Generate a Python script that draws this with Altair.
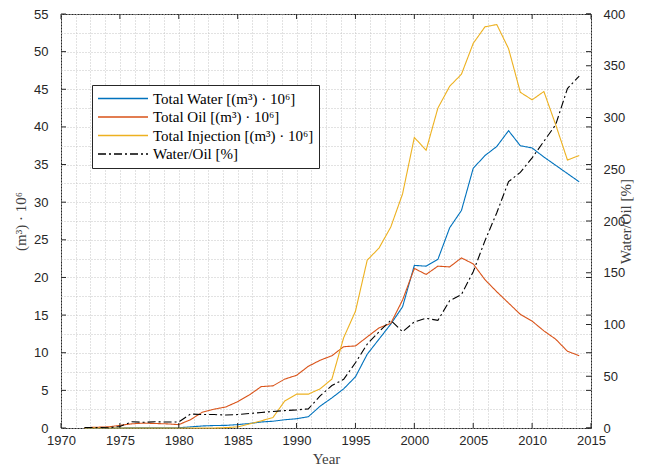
import altair as alt
import pandas as pd

# ---- data ----
years = list(range(1972, 2015))
water = [0, 0, 0, 0, 0.03, 0.04, 0.04, 0.03, 0.03, 0.15, 0.27, 0.33, 0.35, 0.45,
         0.6, 0.8, 0.9, 1.1, 1.23, 1.5, 2.9, 4.0, 5.2, 6.8, 9.8, 11.8, 13.8, 16.1,
         21.6, 21.5, 22.4, 26.6, 28.9, 34.5, 36.2, 37.4, 39.5, 37.5, 37.2, 36.0,
         34.9, 33.8, 32.7]
oil = [0.05, 0.1, 0.15, 0.35, 0.55, 0.65, 0.6, 0.55, 0.45, 1.1, 2.1, 2.5, 2.8, 3.5,
       4.4, 5.5, 5.6, 6.5, 7.0, 8.2, 9.0, 9.6, 10.8, 10.9, 12.1, 13.3, 13.9, 17.0,
       21.2, 20.4, 21.5, 21.4, 22.6, 21.8, 19.7, 18.1, 16.6, 15.1, 14.2, 12.9,
       11.8, 10.2, 9.6]
injection = [0, 0, 0, 0, 0, 0, 0, 0, 0, 0, 0, 0, 0.05, 0.15,
             0.55, 0.95, 1.4, 3.6, 4.5, 4.5, 5.2, 6.5, 12.0, 15.5, 22.3, 23.9, 26.7,
             31.1, 38.6, 36.9, 42.5, 45.4, 47.0, 51.1, 53.3, 53.6, 50.4, 44.6, 43.6,
             44.7, 40.3, 35.6, 36.2]
ratio = [0.5, 0.5, 0.3, 1.5, 6.0, 5.5, 6.0, 5.8, 5.8, 13.5, 13.0, 13.0, 12.5, 13.0,
         14.0, 15.0, 16.0, 16.8, 17.5, 18.5, 31, 41, 47, 63, 81, 93, 104, 93,
         102.5, 106, 104, 123, 129, 151, 181, 208, 238, 247, 261, 277, 293, 328, 340]

series_names = ["Total Water [(m³) · 10⁶]", "Total Oil [(m³) · 10⁶]",
                "Total Injection [(m³) · 10⁶]", "Water/Oil [%]"]
series_colors = ["#0072BD", "#D95319", "#EDB120", "#000000"]
series_dashes = [[1, 0], [1, 0], [1, 0], [8, 3, 2, 3]]

x_major = [1970, 1975, 1980, 1985, 1990, 1995, 2000, 2005, 2010, 2015]
x_grid = [1970 + 1.25 * i for i in range(37)]
left_major = [0, 5, 10, 15, 20, 25, 30, 35, 40, 45, 50, 55]
left_grid = [2.5 * i for i in range(23)]
right_major = [0, 50, 100, 150, 200, 250, 300, 350, 400]

W, H = 530, 414
AX = "#262626"
SANS = "Liberation Sans"
SERIF = "Liberation Serif"

# ---- tables ----
rows = []
for name, vals in zip(series_names[:3], [water, oil, injection]):
    for y, v in zip(years, vals):
        rows.append({"year": y, "value": v, "series": name})
df_left = pd.DataFrame(rows)
df_right = pd.DataFrame({"year": years, "value": ratio, "series": series_names[3]})

x_scale = alt.Scale(domain=[1970, 2015], nice=False, zero=False)
left_scale = alt.Scale(domain=[0, 55], nice=False)
right_scale = alt.Scale(domain=[0, 400], nice=False)
color_scale = alt.Scale(domain=series_names, range=series_colors)
dash_scale = alt.Scale(domain=series_names, range=series_dashes)

legend = alt.Legend(
    orient="none", legendX=31, legendY=71, title=None, symbolType="stroke",
    symbolSize=2500, symbolStrokeWidth=1.3, labelFont=SERIF, labelFontSize=15,
    labelColor="#000000", strokeColor=AX, fillColor="white", padding=5,
    clipHeight=17, rowPadding=1.5, labelOffset=4, labelLimit=400,
)

x_axis = alt.Axis(
    values=x_grid, labelExpr="datum.value % 5 == 0 ? datum.label : ''",
    format="d", labelOverlap=False, labelFlush=False, ticks=False, domain=False,
    grid=True, gridDash=[1, 2], gridColor="#c4c4c4", gridWidth=1,
    labelFont=SANS, labelFontSize=13, labelColor=AX, labelPadding=6,
    title="Year", titleFont=SERIF, titleFontSize=15, titleFontWeight="normal",
    titleColor="#404040", titlePadding=4,
)
left_axis = alt.Axis(
    values=left_grid, labelExpr="datum.value % 5 == 0 ? datum.label : ''",
    labelOverlap=False, ticks=False, domain=False,
    grid=True, gridDash=[1, 2], gridColor="#c4c4c4", gridWidth=1,
    labelFont=SANS, labelFontSize=13, labelColor=AX, labelPadding=13,
    title="(m³) · 10⁶", titleFont=SERIF, titleFontSize=15,
    titleFontWeight="normal", titleColor="#404040", titlePadding=5,
)
right_axis = alt.Axis(
    orient="right", values=right_major, ticks=False, domain=False, grid=False,
    labelFont=SANS, labelFontSize=13, labelColor=AX, labelPadding=12,
    title="Water/Oil [%]", titleFont=SERIF, titleFontSize=15,
    titleFontWeight="normal", titleColor="#404040", titleAngle=270,
    titlePadding=9,
)

X = alt.X("year:Q", scale=x_scale, axis=x_axis)
YL = alt.Y("value:Q", scale=left_scale, axis=left_axis)
YR = alt.Y("value:Q", scale=right_scale, axis=right_axis)

left_lines = alt.Chart(df_left).mark_line(strokeWidth=1.1).encode(
    x=X, y=YL,
    color=alt.Color("series:N", scale=color_scale, legend=legend),
    strokeDash=alt.StrokeDash("series:N", scale=dash_scale, legend=legend),
)

xt = pd.DataFrame({"year": x_major})
lt = pd.DataFrame({"value": left_major})
rt = pd.DataFrame({"value": right_major})

tick_bottom = alt.Chart(xt).mark_rule(color=AX, strokeWidth=1).encode(
    x=X, y=alt.value(H), y2=alt.value(H - 5))
tick_top = alt.Chart(xt).mark_rule(color=AX, strokeWidth=1).encode(
    x=X, y=alt.value(0), y2=alt.value(5))
tick_left = alt.Chart(lt).mark_rule(color=AX, strokeWidth=1).encode(
    y=YL, x=alt.value(0), x2=alt.value(5))
tick_left_mirror = alt.Chart(lt).mark_rule(color=AX, strokeWidth=1).encode(
    y=YL, x=alt.value(W), x2=alt.value(W - 5))

right_line = alt.Chart(df_right).mark_line(strokeWidth=1.1).encode(
    x=X, y=YR,
    color=alt.Color("series:N", scale=color_scale, legend=legend),
    strokeDash=alt.StrokeDash("series:N", scale=dash_scale, legend=legend),
)
tick_right = alt.Chart(rt).mark_rule(color=AX, strokeWidth=1).encode(
    y=YR, x=alt.value(W), x2=alt.value(W - 5))

left_group = alt.layer(left_lines, tick_bottom, tick_top, tick_left, tick_left_mirror)
right_group = alt.layer(right_line, tick_right)

chart = alt.layer(left_group, right_group).resolve_scale(y="independent").properties(
    width=W, height=H,
    autosize=alt.AutoSizeParams(type="none"),
    padding={"left": 53, "top": 6, "right": 50, "bottom": 40},
    background="white",
).configure_view(stroke=AX, strokeWidth=1)

chart.save("out.html", embed_options={"renderer": "svg", "actions": False})
